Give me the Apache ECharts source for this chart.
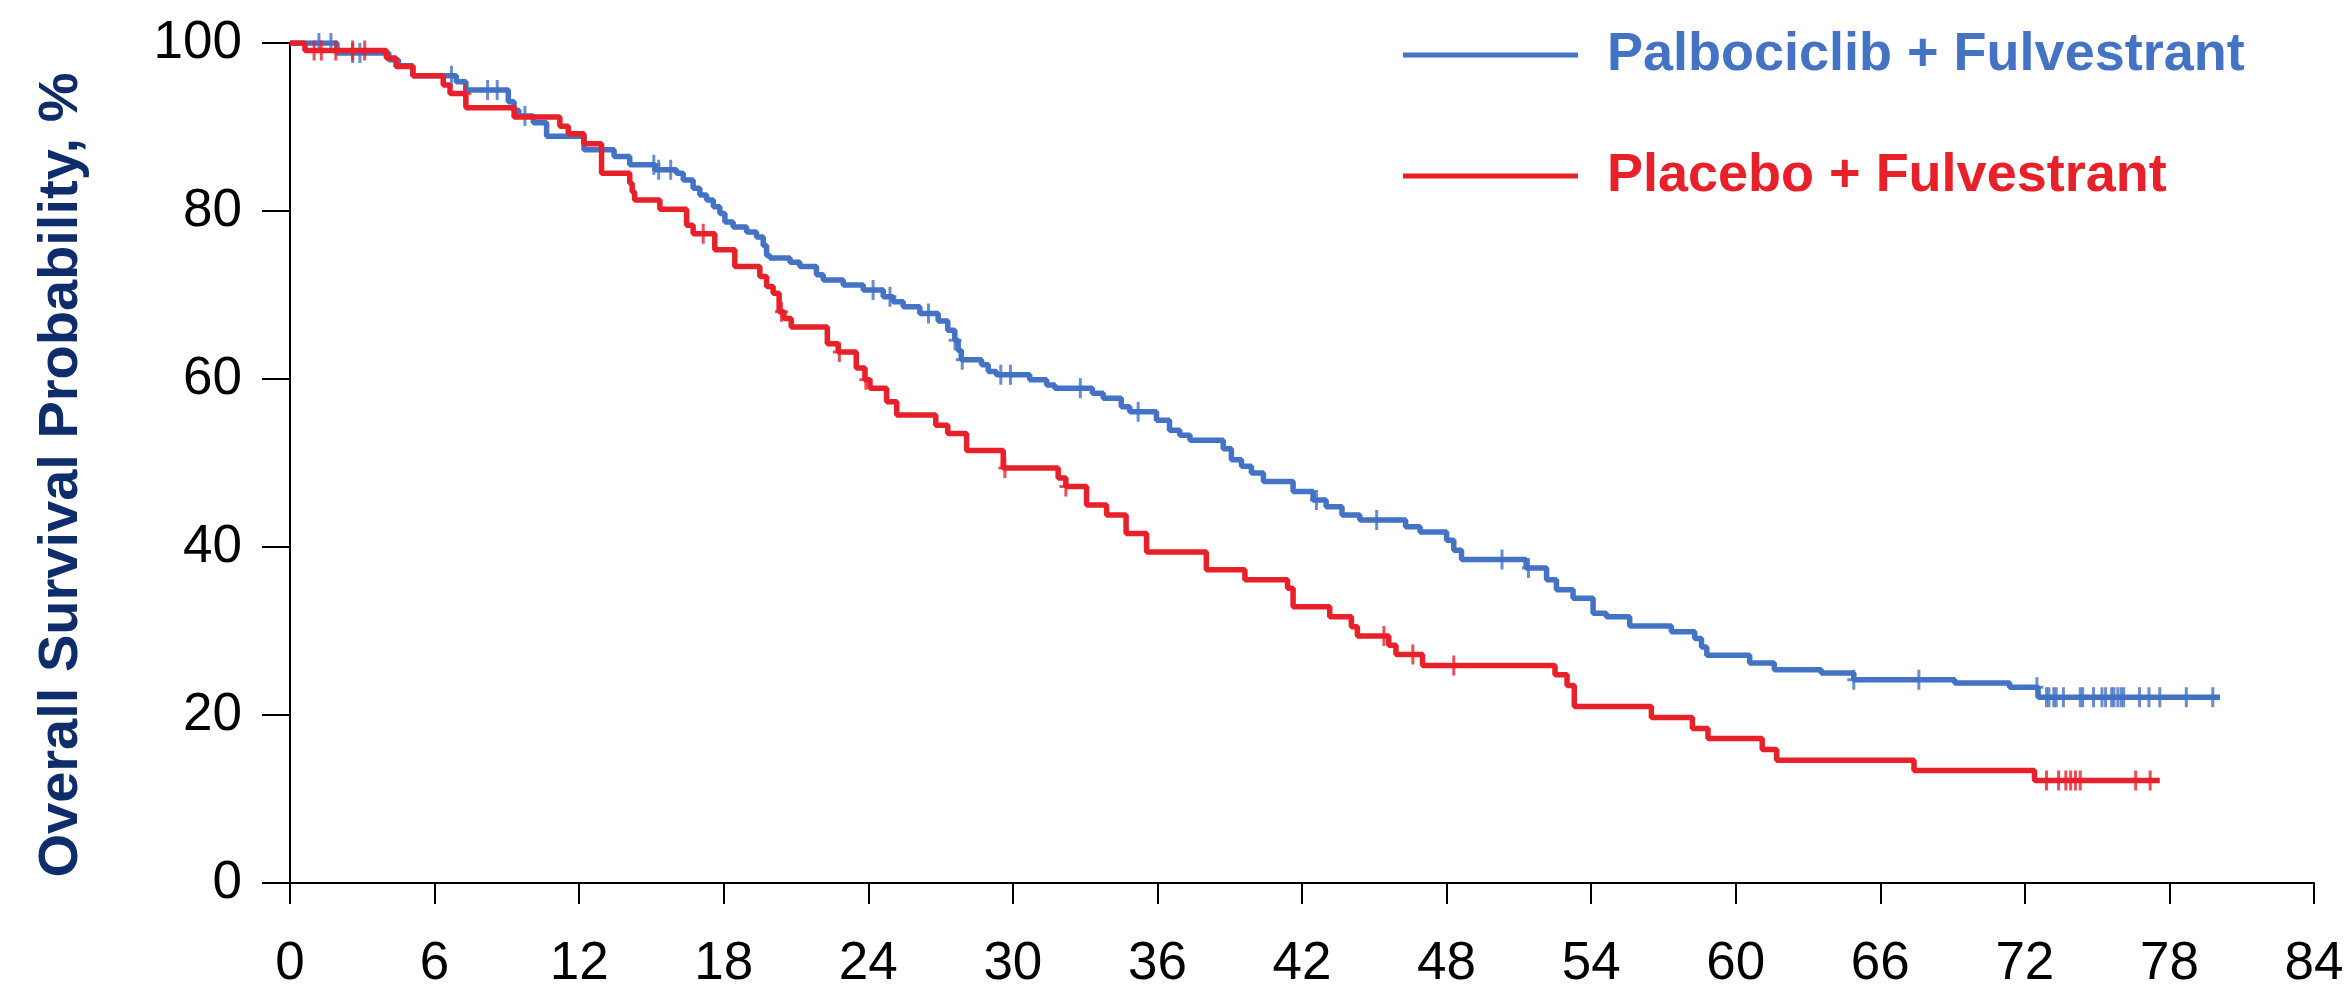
<!DOCTYPE html>
<html>
<head>
<meta charset="utf-8">
<script src="https://cdn.jsdelivr.net/npm/echarts/dist/echarts.min.js"></script>
<style>
  html, body { margin: 0; padding: 0; background: #ffffff; }
  #chart { width: 2348px; height: 993px; }
</style>
</head>
<body>
<div id="chart"></div>
<script>
// ---- Data (months, survival %) ----
const seriesNames = ['Palbociclib + Fulvestrant', 'Placebo + Fulvestrant'];

// Kaplan-Meier steps: [event time (months), survival after event (%)]
const palboSteps = [
  [0,100],[1.95,98.8],[4.1,98.0],[4.5,97.3],[5.1,96.1],[6.9,95.4],[7.3,94.4],
  [9.06,93.0],[9.3,92.0],[9.5,91.3],[10.1,90.5],[10.65,88.9],[12.2,87.3],
  [13.45,86.5],[14.1,85.5],[15.15,84.9],[16.04,84.5],[16.32,83.7],[16.73,82.7],
  [17.01,81.9],[17.29,81.3],[17.57,80.5],[17.84,79.7],[18.05,78.7],[18.39,78.1],
  [18.95,77.5],[19.36,76.9],[19.64,75.9],[19.78,74.7],[19.92,74.4],[20.75,73.9],
  [21.16,73.4],[21.85,72.4],[22.13,71.8],[22.96,71.2],[23.79,70.6],[24.62,69.8],
  [25.03,69.2],[25.45,68.6],[26.14,67.8],[26.9,66.9],[27.3,65.8],[27.59,64.6],
  [27.73,63.4],[27.86,62.3],[28.7,61.7],[28.98,60.9],[29.32,60.5],[30.7,59.9],
  [31.4,59.3],[31.74,58.9],[33.3,58.3],[33.75,57.7],[34.5,56.7],[34.85,56.1],
  [35.96,55.1],[36.5,53.9],[36.93,53.3],[37.35,52.7],[38.73,51.7],[39.07,50.4],
  [39.49,49.6],[39.9,48.8],[40.4,47.8],[41.63,46.6],[42.46,45.6],[43.0,44.8],
  [43.66,43.8],[44.4,43.2],[46.3,42.4],[46.9,41.8],[48.0,40.8],[48.3,39.6],
  [48.62,38.5],[51.3,37.5],[52.15,36.1],[52.56,34.9],[53.25,33.9],[54.08,32.1],
  [54.63,31.7],[55.6,30.6],[57.33,29.9],[58.3,29.1],[58.58,28.1],[58.8,27.1],
  [60.58,26.2],[61.6,25.4],[63.55,25.0],[64.9,24.2],[69.09,23.8],[71.37,23.3],
  [72.55,22.1],[80.1,22.1]
];
const palboCensor = [
  1.2,1.7,2.6,2.9,6.7,8.2,8.6,9.75,15.1,15.3,15.8,24.2,24.9,26.5,27.6,27.9,
  29.5,29.9,32.8,35.2,42.6,45.1,50.3,51.4,64.9,67.6,72.5,72.9,73.0,73.2,73.3,
  73.6,74.3,74.4,74.85,75.2,75.35,75.6,75.7,75.86,76.0,76.1,76.76,77.15,77.6,
  78.7,79.8
];

const placeboSteps = [
  [0,100],[0.62,99.1],[4.0,98.2],[4.4,97.2],[5.1,96.1],[6.36,95.0],[6.64,94.0],
  [7.3,92.3],[9.3,91.2],[11.2,90.1],[11.55,89.2],[12.2,88.0],[12.93,84.5],
  [14.1,83.3],[14.2,82.3],[14.3,81.3],[15.35,80.2],[16.46,78.3],[16.73,77.3],
  [17.63,75.4],[18.46,73.4],[19.5,72.2],[19.78,71.0],[20.05,70.2],[20.3,68.0],
  [20.5,67.2],[20.8,66.2],[22.3,64.2],[22.75,63.2],[23.5,61.3],[23.86,59.9],
  [24.07,58.9],[24.76,57.3],[25.18,55.7],[26.8,54.5],[27.3,53.5],[28.08,51.5],
  [29.6,49.4],[31.88,48.2],[32.2,47.2],[33.06,45.0],[33.89,43.8],[34.7,41.6],
  [35.55,39.4],[38.03,37.3],[39.63,36.1],[41.4,35.1],[41.63,32.9],[43.15,31.7],
  [44.05,30.5],[44.3,29.4],[45.6,28.3],[45.9,27.2],[47.0,25.9],[52.5,24.8],
  [53.0,23.5],[53.3,21.0],[56.5,19.7],[58.2,18.4],[58.85,17.2],[61.1,15.9],
  [61.7,14.6],[67.4,13.4],[72.4,12.2],[77.6,12.2]
];
const placeboCensor = [
  1.0,1.3,1.9,2.6,3.1,7.25,17.15,20.4,22.8,23.9,29.67,32.2,45.4,46.6,48.3,
  72.9,73.4,73.7,73.9,74.1,74.3,76.6,77.2
];

const xMin = 0, xMax = 84, xStep = 6;
const yMin = 0, yMax = 100, yStep = 20;
const yTitle = 'Overall Survival Probability, %';

// ---- Styles ----
const BLUE = '#4472C4';
const RED = '#E8202A';
const NAVY = '#0F2D6B';
const FONT = '"Liberation Sans", Arial, Helvetica, sans-serif';

// survival at a censor time = last step at or before it
function survAt(steps, t) {
  let v = steps[0][1];
  for (const s of steps) { if (s[0] <= t) v = s[1]; else break; }
  return v;
}
const censorPts = (steps, times) => times.map(t => [t, survAt(steps, t)]);

const plusPath = 'path://M-1.5,-10 H1.5 V-1.5 H6.5 V1.5 H1.5 V10 H-1.5 V1.5 H-6.5 V-1.5 H-1.5 Z';

const chart = echarts.init(document.getElementById('chart'), null, { renderer: 'canvas' });
chart.setOption({
  animation: false,
  backgroundColor: '#ffffff',
  grid: { left: 290, right: 34, top: 43, bottom: 110, containLabel: false },
  legend: {
    data: [
      { name: seriesNames[0], textStyle: { color: BLUE } },
      { name: seriesNames[1], textStyle: { color: RED } }
    ],
    orient: 'vertical',
    left: 1403,
    top: 25,
    padding: 0,
    itemGap: 61,
    itemWidth: 175,
    itemHeight: 5,
    icon: 'rect',
    selectedMode: false,
    textStyle: {
      fontFamily: FONT, fontWeight: 'bold', fontSize: 54, lineHeight: 60,
      padding: [0, 0, 0, 24]
    }
  },
  xAxis: {
    type: 'value', min: xMin, max: xMax, interval: xStep,
    axisLine: { show: true, onZero: false, lineStyle: { color: '#000', width: 2 } },
    axisTick: { show: true, length: 21, lineStyle: { color: '#000', width: 2 } },
    axisLabel: { fontFamily: FONT, fontSize: 53, color: '#000', margin: 55 },
    splitLine: { show: false }
  },
  yAxis: {
    type: 'value', min: yMin, max: yMax, interval: yStep,
    name: yTitle, nameLocation: 'middle', nameGap: 200,
    nameTextStyle: {
      fontFamily: FONT, fontWeight: 'bold', fontSize: 56, color: NAVY,
      padding: [0, 24, 0, 0]
    },
    axisLine: { show: true, lineStyle: { color: '#000', width: 2 } },
    axisTick: { show: true, length: 28, lineStyle: { color: '#000', width: 2 } },
    axisLabel: { fontFamily: FONT, fontSize: 53, color: '#000', margin: 48 },
    splitLine: { show: false }
  },
  series: [
    {
      name: seriesNames[0], type: 'line', step: 'end', data: palboSteps,
      showSymbol: false, symbol: 'none', color: BLUE,
      lineStyle: { color: BLUE, width: 5.5 }, z: 2
    },
    {
      name: seriesNames[0] + ' censored', type: 'scatter',
      data: censorPts(palboSteps, palboCensor),
      symbol: plusPath, symbolSize: [13, 20], itemStyle: { color: BLUE }, z: 3
    },
    {
      name: seriesNames[1], type: 'line', step: 'end', data: placeboSteps,
      showSymbol: false, symbol: 'none', color: RED,
      lineStyle: { color: RED, width: 5.5 }, z: 4
    },
    {
      name: seriesNames[1] + ' censored', type: 'scatter',
      data: censorPts(placeboSteps, placeboCensor),
      symbol: plusPath, symbolSize: [13, 20], itemStyle: { color: RED }, z: 5
    }
  ]
});
</script>
</body>
</html>
